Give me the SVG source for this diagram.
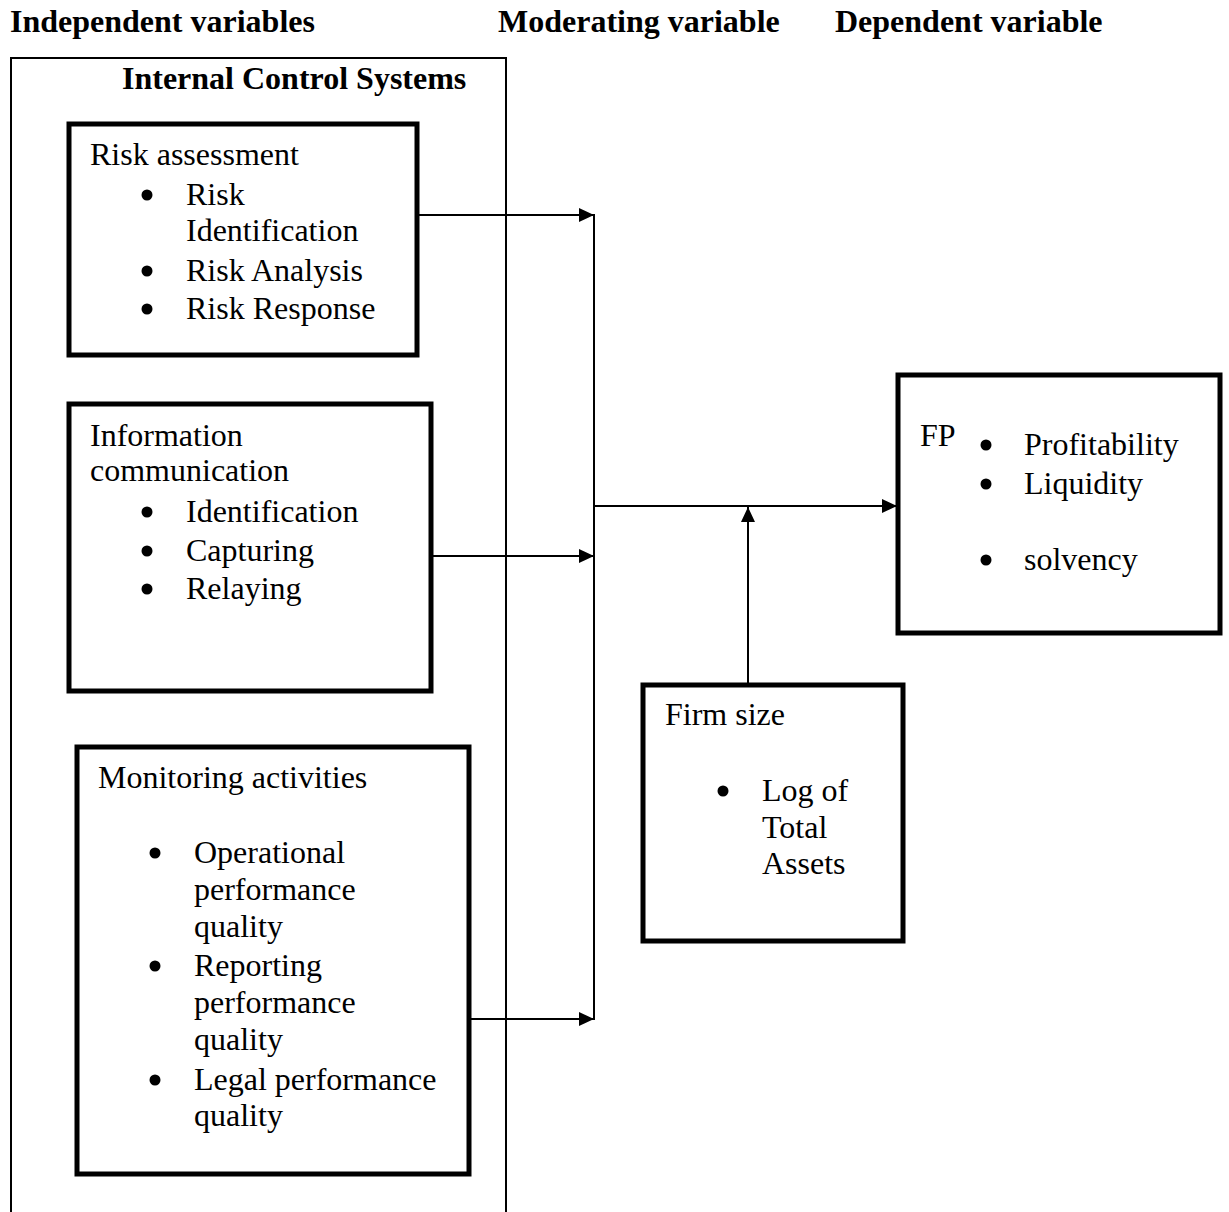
<svg xmlns="http://www.w3.org/2000/svg" width="1229" height="1212" viewBox="0 0 1229 1212">
<style>
text{font-family:"Liberation Serif","Times New Roman",serif;font-size:32px;fill:#000}
.h{font-weight:bold}
.box{fill:#fff;stroke:#000;stroke-width:5}
.ln{fill:none;stroke:#000;stroke-width:2}
.dot{fill:#000}
</style>
<defs>
<marker id="ah" markerUnits="userSpaceOnUse" markerWidth="15" markerHeight="14" refX="15" refY="7" orient="auto">
<path d="M0,0 L15,7 L0,14 z" fill="#000"/>
</marker>
</defs>
<rect width="1229" height="1212" fill="#fff"/>
<g id="headers">
<text class="h" x="10" y="32">Independent variables</text>
<text class="h" x="498" y="32">Moderating variable</text>
<text class="h" x="835" y="32">Dependent variable</text>
</g>
<g id="internal-control-systems">
<path class="ln" d="M11,1214 V58 H506 V1214"/>
<text class="h" x="122" y="89">Internal Control Systems</text>
</g>
<g id="risk-assessment">
<rect class="box" x="69" y="124" width="348" height="231"/>
<text x="90" y="165">Risk assessment</text>
<circle class="dot" cx="147" cy="195" r="5.5"/>
<text x="186" y="205">Risk</text>
<text x="186" y="241">Identification</text>
<circle class="dot" cx="147" cy="271" r="5.5"/>
<text x="186" y="281">Risk Analysis</text>
<circle class="dot" cx="147" cy="309" r="5.5"/>
<text x="186" y="319">Risk Response</text>
</g>
<g id="information-communication">
<rect class="box" x="69" y="404" width="362" height="287"/>
<text x="90" y="446">Information</text>
<text x="90" y="481">communication</text>
<circle class="dot" cx="147" cy="512" r="5.5"/>
<text x="186" y="522">Identification</text>
<circle class="dot" cx="147" cy="551" r="5.5"/>
<text x="186" y="561">Capturing</text>
<circle class="dot" cx="147" cy="589" r="5.5"/>
<text x="186" y="599">Relaying</text>
</g>
<g id="monitoring-activities">
<rect class="box" x="77" y="747" width="392" height="427"/>
<text x="98" y="788">Monitoring activities</text>
<circle class="dot" cx="155" cy="853" r="5.5"/>
<text x="194" y="863">Operational</text>
<text x="194" y="900">performance</text>
<text x="194" y="937">quality</text>
<circle class="dot" cx="155" cy="966" r="5.5"/>
<text x="194" y="976">Reporting</text>
<text x="194" y="1013">performance</text>
<text x="194" y="1050">quality</text>
<circle class="dot" cx="155" cy="1080" r="5.5"/>
<text x="194" y="1090">Legal performance</text>
<text x="194" y="1126">quality</text>
</g>
<g id="fp">
<rect class="box" x="898" y="375" width="322" height="258"/>
<text x="920" y="446">FP</text>
<circle class="dot" cx="986" cy="445" r="5.5"/>
<text x="1024" y="455">Profitability</text>
<circle class="dot" cx="986" cy="484" r="5.5"/>
<text x="1024" y="494">Liquidity</text>
<circle class="dot" cx="986" cy="560" r="5.5"/>
<text x="1024" y="570">solvency</text>
</g>
<g id="firm-size">
<rect class="box" x="643" y="685" width="260" height="256"/>
<text x="665" y="725">Firm size</text>
<circle class="dot" cx="723" cy="791" r="5.5"/>
<text x="762" y="801">Log of</text>
<text x="762" y="838">Total</text>
<text x="762" y="874">Assets</text>
</g>
<g id="connectors">
<line class="ln" x1="594" y1="214" x2="594" y2="1020"/>
<line class="ln" x1="419" y1="215" x2="594" y2="215" marker-end="url(#ah)"/>
<line class="ln" x1="433" y1="556" x2="594" y2="556" marker-end="url(#ah)"/>
<line class="ln" x1="471" y1="1019" x2="594" y2="1019" marker-end="url(#ah)"/>
<line class="ln" x1="594" y1="506" x2="897" y2="506" marker-end="url(#ah)"/>
<line class="ln" x1="748" y1="683" x2="748" y2="507" marker-end="url(#ah)"/>
</g>
</svg>
